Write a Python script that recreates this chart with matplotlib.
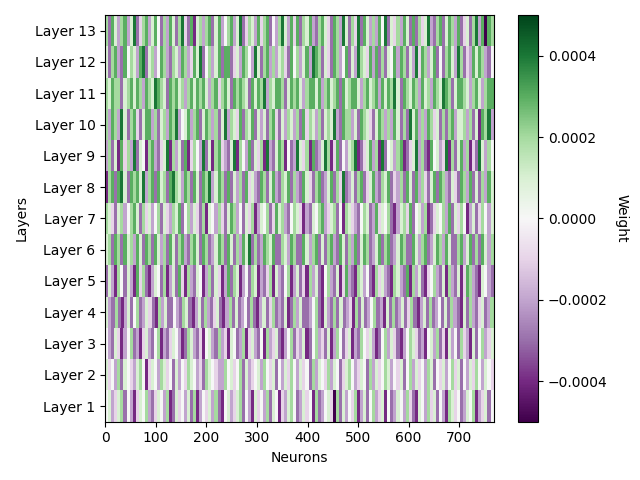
import numpy as np
import matplotlib
matplotlib.use("Agg")
import matplotlib.pyplot as plt

n_neurons = 768
layer_names = [f"Layer {i}" for i in range(1, 14)]

# weights, one letter per block of neurons
# 'a' = -0.0005 ... 'f' = 0 ... 'k' = +0.0005 (steps of 0.0001)
layer_1 = ("fgdeghcfdbegfhdc" "egfdhbcgefdgchbd" "fegdhcbfgdeghcfd" "bgefdhcgfbedghfc"
           "dgefbhcdfgeahcgd" "fehbdgcfhdegbfcd" "gfdhecbgfdhegcfd" "bhgefcdgfhbdegcf")
layer_2 = ("gefdhcgfedghfbeg" "fdhgefcgdfehgfde" "chgfeddhfgefhcgd" "efgdhfegcfdgehfd"
           "gefchdgfehdgfceg" "hfdegfchdgefhgdf" "egcfhdgefdhgcfeg" "dfhegcfdgehfdgfe")
layer_3 = ("fdcgebdfhcdbegdc" "fhbdcegfdbchgdce" "bfgdchdebgfcdhbe" "gdcfbhdegcbdfhce"
           "dgbcfhdecgbdhfce" "gbdchfegdbcfhdge" "cbdfhgecdbfgdhce" "bgdfchedbgcfhdeg")
layer_4 = ("gdchcbdgcfhcdge" "cbhdgccfdchgcbdg" "chdcegcbdhcgcdfc" "hcbdgcehcdcgbchd"
           "gccdfhcbgdchcgcd" "ebhcgcdfhcdbgch" "cdgcehcbdgchcdfc" "gchdcbgchdcegcdh")
layer_5 = ("cgdbhfcgdbiehcbd" "gfchbdgciebhdcgf" "bdhcgebdichgbdfc" "hgbdcehbgdcfhbdg"
           "cebhdgcbfhdcgbei" "dcbhgdfcbhegdcbh" "gdcibhdgcbefhdcg" "bhdcgbeihdcbgfdc")
layer_6 = ("ghcihcighdigcihc" "igdhcigchidchigc" "ihcdgihcigchdigj" "chcdihgicchgdihc"
           "cigdhicgchidcigc" "hdicgihcdgichicd" "gihccigdhicdgihd" "igcchidgichcigdh")
layer_7 = ("hgecghdfhigchegd" "fhcgedhgicfhdgec" "hbgfdhecgihdfcge" "hbdgfhceighdcfhg"
           "ebdcgfhideghcfbh" "gedcfhgcdiegfhcb" "dgheicfgdhbcegfh" "dicgehfbdgcehfdg")
layer_8 = ("bhicijgcihigjdhi" "cighcijhgdihcigc" "ihjdgihcicgdhcie" "gdcihcgidchgichd"
           "cigechicdgichejc" "dgchicegidchgice" "dhcigcidhecgicih" "dcgecihdicgchdig")
layer_9 = ("dhcgbiehdjcgfbhi" "dcegjbhdgcibehfd" "jcgbhiedcgjbhfdi" "cgehbjdcgihbfcdj"
           "gehbicdgjhbeicfd" "ghjbcegidhbjcfgd" "hibcegjdhcbifgde" "jbhcgidhbecjgdhf")
layer_10 = ("hdihdjgchiecgiid" "hcghdihjdfgidhic" "gihdhcgjdhgeichg" "icgdgchiecgdhgdh"
            "ciehgdhcghgjdcih" "hdgcihgecgihdhdi" "gchcjgidhdihegch" "chidgghdhcgbihjd")
layer_11 = ("hgihhcghigihdihg" "jihgcihighdhigih" "igdhiehigcihihgc" "igihjdhgiihcgihi"
            "gdhiigidhighicig" "hiigdhighidigihj" "gcihgihdighdihgj" "ihcgiihgdhigdhii")
layer_12 = ("gchidcifhgdijcgh" "dfihdchgdihdeigj" "cfhdgiciicegdihf" "djgchidhdghecifh"
            "dgidjihcgecihdfi" "cgdjhgeidichcgfi" "dihcgdjeihdgicfc" "higdjhcedigihdcf")
layer_13 = ("hcigdhidgjcehidg" "ifchdigchjecibgh" "dhicgidfhidgjceh" "gdiehicfdhjgdiei"
            "chgidchigecihdjg" "chejcigdhdifjcge" "hdigcichegjdchic" "gihdicegchjdiaih")

layer_codes = [layer_1, layer_2, layer_3, layer_4, layer_5, layer_6, layer_7,
               layer_8, layer_9, layer_10, layer_11, layer_12, layer_13]

fig, ax = plt.subplots(figsize=(6.4, 4.8), dpi=100)

for i, code in enumerate(layer_codes):
    vals = np.array([(ord(c) - ord('f')) * 1e-4 for c in code])
    edges = np.linspace(0, n_neurons, len(vals) + 1)
    mesh = ax.pcolormesh(edges, [i - 0.5, i + 0.5], vals[np.newaxis, :],
                         cmap='PRGn', vmin=-0.0005, vmax=0.0005)

ax.set_xlim(0, n_neurons)
ax.set_ylim(-0.5, len(layer_codes) - 0.5)
ax.set_yticks(range(len(layer_names)))
ax.set_yticklabels(layer_names)
ax.set_xlabel('Neurons')
ax.set_ylabel('Layers')

cbar = fig.colorbar(mesh, ax=ax)
cbar.set_label('Weight', rotation=270, labelpad=15)

plt.tight_layout()
plt.savefig('out.png', dpi=100)
